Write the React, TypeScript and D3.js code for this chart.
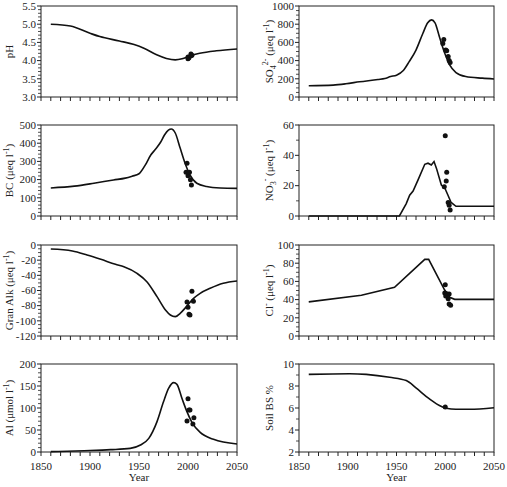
import React from "react";
import * as d3 from "d3";

const W = 507;
const H = 487;
const FONT = "Liberation Serif, DejaVu Serif, Times New Roman, serif";

const xTickYears = [1850, 1900, 1950, 2000, 2050];

// ---- series (year, value) ----
const phModel: [number, number][] = [
  [1860, 5.0], [1880, 4.95], [1900, 4.75], [1910, 4.66], [1930, 4.54], [1945, 4.44],
  [1955, 4.34], [1968, 4.16], [1978, 4.06], [1987, 4.02], [1994, 4.05], [2002, 4.13],
  [2012, 4.2], [2029, 4.27], [2050, 4.32],
];
const phObs: [number, number][] = [
  [2000, 4.1], [2000, 4.05], [2001, 4.08], [2003, 4.18], [2003, 4.13], [2004, 4.15],
];

const so4Model: [number, number][] = [
  [1860, 124], [1885, 131], [1898, 145], [1912, 167], [1931, 193], [1938, 204],
  [1944, 225], [1950, 240], [1957, 291], [1963, 389], [1970, 516], [1977, 698],
  [1982, 815], [1986, 847], [1989.5, 815], [1994, 662], [1999.5, 480], [2004.5, 353],
  [2011, 269], [2021, 225], [2038, 207], [2050, 198],
];
const so4Obs: [number, number][] = [
  [1998.5, 633], [1997.5, 589], [2000.5, 516], [2001.5, 509], [2003, 444], [2004, 400], [2005, 378],
];

const bcModel: [number, number][] = [
  [1860, 154], [1884, 164], [1904, 180], [1924, 198], [1936, 208], [1943, 219],
  [1950, 232], [1956.5, 281], [1962, 335], [1967, 368], [1972, 405], [1976, 445], [1980, 472],
  [1983, 478], [1987, 456], [1992, 373], [1997, 290], [2002, 226], [2009, 180],
  [2019, 162], [2033, 154], [2050, 152],
];
const bcObs: [number, number][] = [
  [1999, 290], [1998, 241], [2000, 221], [2001.5, 241], [2002.5, 199], [2003.5, 171],
];

const no3Model: [number, number][] = [
  [1860, 0], [1953, 0], [1960, 8.2], [1963.5, 13.7], [1967, 16.4], [1972, 23.7],
  [1979, 34.1], [1982.3, 34.8], [1985.7, 33.6], [1988.5, 35.9], [1991, 31.4],
  [1996, 20.4], [1999.4, 18.6], [2002.8, 13.7], [2006, 8.9], [2011, 6.4], [2050, 6.4],
];
const no3Obs: [number, number][] = [
  [2000, 52.9], [2001.5, 28.8], [2001, 23], [1999, 19.3], [2003, 8.9], [2004, 7.1], [2005, 4],
];

const alkModel: [number, number][] = [
  [1860, -5.3], [1882, -7.9], [1897, -13.2], [1911, -18.9], [1926, -25.5], [1934.6, -28.6],
  [1948, -37.4], [1958, -48.4], [1968.4, -68.1], [1977, -85.7], [1982, -92.3],
  [1987, -94.5], [1992, -90.1], [1999, -80.4], [2005.7, -70.3], [2012.4, -63.7],
  [2022.6, -57.1], [2036, -50.5], [2050, -47.5],
];
const alkObs: [number, number][] = [
  [2004, -61.1], [1999, -75.2], [2000, -82.2], [2005.5, -74.3], [2001, -91.4], [2002, -92.3],
];

const clModel: [number, number][] = [
  [1860, 37.5], [1914, 44.7], [1948, 53.5], [1979, 84.2], [1983, 84.2],
  [1999.4, 50.5], [2004.5, 42.5], [2009.7, 40.3], [2050, 40.3],
];
const clObs: [number, number][] = [
  [2000, 56.4], [1999.5, 47.3], [2001.5, 46.5], [2004, 46.2], [2003, 41], [2004, 35.2],
  [2005.5, 33.7], [2000.5, 44],
];

const alModel: [number, number][] = [
  [1860, 0.8], [1894, 3], [1921, 5.3], [1941, 8.3], [1951.5, 15.9], [1960, 31],
  [1968.4, 69], [1975, 114], [1980.3, 145], [1985.4, 157.6], [1988.7, 153.8],
  [1993.8, 122], [1998.9, 91.7], [2004, 67.4], [2012.4, 44.7], [2026, 28.8], [2050, 18.2],
];
const alObs: [number, number][] = [
  [2000, 121], [2001, 95.5], [2002, 95.5], [1999, 70.5], [2006, 78], [2005, 63.6],
];

const bsModel: [number, number][] = [
  [1860, 9.06], [1902, 9.12], [1919, 9.06], [1943, 8.79], [1960, 8.49], [1970.3, 7.8],
  [1980.6, 7.04], [1991, 6.38], [2001, 5.98], [2011, 5.88], [2025, 5.88], [2050, 6.02],
];
const bsObs: [number, number][] = [[2000, 6.1]];

// ---- y axes ----
const phTicks = [3.0, 3.5, 4.0, 4.5, 5.0, 5.5];
const so4Ticks = [0, 200, 400, 600, 800, 1000];
const bcTicks = [0, 100, 200, 300, 400, 500];
const no3Ticks = [0, 20, 40, 60];
const alkTicks = [0, -20, -40, -60, -80, -100, -120];
const clTicks = [0, 20, 40, 60, 80, 100];
const alTicks = [0, 50, 100, 150, 200];
const bsTicks = [2, 4, 6, 8, 10];

type Lab = { t: string; k?: "sub" | "sup" }[];

type Panel = {
  col: number;
  row: number;
  model: [number, number][];
  obs: [number, number][];
  ticks: number[];
  minor: number;
  fmt: (v: number) => string;
  label: Lab;
  linear?: boolean;
};

const ueq: Lab = [{ t: " (μeq l" }, { t: "-1", k: "sup" }, { t: ")" }];

const panels: Panel[] = [
  { col: 0, row: 0, model: phModel, obs: phObs, ticks: phTicks, minor: 0.1, fmt: (v) => v.toFixed(1), label: [{ t: "pH" }] },
  { col: 1, row: 0, model: so4Model, obs: so4Obs, ticks: so4Ticks, minor: 50, fmt: String,
    label: [{ t: "SO" }, { t: "4", k: "sub" }, { t: "2-", k: "sup" }, ...ueq] },
  { col: 0, row: 1, model: bcModel, obs: bcObs, ticks: bcTicks, minor: 20, fmt: String, label: [{ t: "BC" }, ...ueq] },
  { col: 1, row: 1, model: no3Model, obs: no3Obs, ticks: no3Ticks, minor: 10, fmt: String, linear: true,
    label: [{ t: "NO" }, { t: "3", k: "sub" }, { t: "-", k: "sup" }, ...ueq] },
  { col: 0, row: 2, model: alkModel, obs: alkObs, ticks: alkTicks, minor: 5, fmt: String, label: [{ t: "Gran Alk" }, ...ueq] },
  { col: 1, row: 2, model: clModel, obs: clObs, ticks: clTicks, minor: 5, fmt: String, linear: true,
    label: [{ t: "Cl" }, { t: "-", k: "sup" }, ...ueq] },
  { col: 0, row: 3, model: alModel, obs: alObs, ticks: alTicks, minor: 10, fmt: String,
    label: [{ t: "Al (μmol l" }, { t: "-1", k: "sup" }, { t: ")" }] },
  { col: 1, row: 3, model: bsModel, obs: bsObs, ticks: bsTicks, minor: 1, fmt: String, label: [{ t: "Soil BS %" }] },
];

const colX = [
  [41, 237],
  [299, 494],
];
const rowY = [
  [6, 97],
  [125, 216],
  [245, 336],
  [364, 452],
];
const labelX = [13, 273];

const txt = { fontFamily: FONT, fontSize: 11, fill: "#222" } as const;

function Label({ x, y, parts }: { x: number; y: number; parts: Lab }) {
  let cur = 0;
  const spans = parts.map((p, i) => {
    let target = 0;
    let size = 11;
    if (p.k === "sub") { target = 3; size = 8; }
    if (p.k === "sup") { target = -4; size = 8; }
    if (p.k === "sup" && i > 0 && parts[i - 1].k === "sub") { target = -5; }
    const dy = target - cur;
    cur = target;
    return (
      <tspan key={i} dy={dy} style={{ fontSize: size }}>{p.t}</tspan>
    );
  });
  return (
    <text transform={`translate(${x},${y}) rotate(-90)`} textAnchor="middle" style={txt}>
      {spans}
    </text>
  );
}

function PanelView({ p }: { p: Panel }) {
  const [x0, x1] = colX[p.col];
  const [y0, y1] = rowY[p.row];
  const x = d3.scaleLinear().domain([1850, 2050]).range([x0, x1]);
  const ext = d3.extent(p.ticks) as [number, number];
  const y = d3.scaleLinear().domain(ext).range([y1, y0]);
  const line = d3
    .line<[number, number]>()
    .x((d) => x(d[0]))
    .y((d) => y(d[1]))
    .curve(p.linear ? d3.curveLinear : d3.curveMonotoneX);
  const minorTicks = d3.range(ext[0], ext[1] + p.minor / 2, p.minor).filter(
    (v) => !p.ticks.some((t) => Math.abs(t - v) < 1e-6)
  );
  const xMinor = d3.range(1850, 2051, 10);
  const bottom = p.row === 3;
  return (
    <g>
      <rect x={x0} y={y0} width={x1 - x0} height={y1 - y0} fill="none" stroke="#222" strokeWidth={1} />
      {xMinor.map((v) => (
        <line key={v} x1={x(v)} x2={x(v)} y1={y1} y2={y1 + 4} stroke="#222" strokeWidth={1} />
      ))}
      {bottom &&
        xTickYears.map((v) => (
          <text key={v} x={x(v)} y={470} textAnchor="middle" style={txt}>
            {v}
          </text>
        ))}
      {bottom && (
        <text x={(x0 + x1) / 2} y={481} textAnchor="middle" style={txt}>
          Year
        </text>
      )}
      {minorTicks.map((v, i) => (
        <line key={"m" + i} x1={x0 - 3} x2={x0} y1={y(v)} y2={y(v)} stroke="#222" strokeWidth={0.8} />
      ))}
      {p.ticks.map((v) => (
        <g key={v}>
          <line x1={x0 - 4} x2={x0} y1={y(v)} y2={y(v)} stroke="#222" strokeWidth={1} />
          <text x={x0 - 5} y={y(v) + 3.8} textAnchor="end" style={txt}>
            {p.fmt(v)}
          </text>
        </g>
      ))}
      <path d={line(p.model) || ""} fill="none" stroke="#111" strokeWidth={1.6} />
      {p.obs.map((d, i) => (
        <circle key={i} cx={x(d[0])} cy={y(d[1])} r={2.5} fill="#111" />
      ))}
      <Label x={labelX[p.col]} y={(y0 + y1) / 2} parts={p.label} />
    </g>
  );
}

export default function App() {
  return (
    <svg
      width={W}
      height={H}
      style={{ position: "absolute", left: 0, top: 0, background: "#fff" }}
    >
      <rect width={W} height={H} fill="#fff" />
      {panels.map((p, i) => (
        <PanelView key={i} p={p} />
      ))}
    </svg>
  );
}
